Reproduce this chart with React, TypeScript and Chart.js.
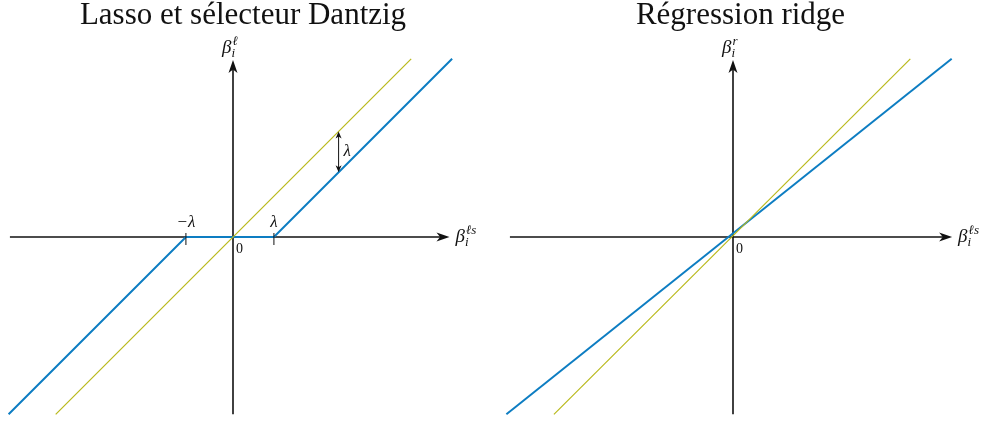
import React, { useEffect, useRef } from 'react';
import { Chart, registerables } from 'chart.js';

Chart.register(...registerables);

// ---------- data ----------
const TITLES = ['Lasso et sélecteur Dantzig', 'Régression ridge'];

// Lasso / Dantzig panel (soft thresholding)
const LASSO_X = [-5.1, -1.07, 0.93, 4.98];
const LASSO_Y = [-4.03, 0, 0, 4.05];
const IDENTITY_L_X = [-4.03, 4.05];
const IDENTITY_L_Y = [-4.03, 4.05];
const LAMBDA_TICKS = [-1.07, 0.93];
const LAMBDA_TICK_LABELS = ['−λ', 'λ'];
const LAMBDA_ARROW_X = 2.4;

// Ridge panel (shrinkage)
const RIDGE_X = [-5.15, 4.97];
const RIDGE_Y = [-4.03, 4.05];
const IDENTITY_R_X = [-4.07, 4.03];
const IDENTITY_R_Y = [-4.03, 4.05];

// axis extents (data units)
const AXIS_X_L = [-5.07, 4.92];
const AXIS_X_R = [-5.07, 4.98];
const AXIS_Y = [-4.03, 4.02];
const ORIGIN_LABEL = '0';

// ---------- styles ----------
const BLUE = '#0d7dc2';
const OLIVE = '#b9b91c';
const SERIF = '"Liberation Serif", "DejaVu Serif", serif';

type PanelSpec = {
  title: string;
  left: number;
  width: number;
  xMin: number;
  xMax: number;
  blue: { x: number[]; y: number[] };
  olive: { x: number[]; y: number[] };
  axisX: number[];
  xSup: string;
  ySup: string;
  lasso: boolean;
};

const Y_MIN = -184 / 44;
const Y_MAX = 187 / 44;

const PANELS: PanelSpec[] = [
  {
    title: TITLES[0],
    left: 0,
    width: 486,
    xMin: -233 / 44,
    xMax: 253 / 44,
    blue: { x: LASSO_X, y: LASSO_Y },
    olive: { x: IDENTITY_L_X, y: IDENTITY_L_Y },
    axisX: AXIS_X_L,
    xSup: 'ℓs',
    ySup: 'ℓ',
    lasso: true,
  },
  {
    title: TITLES[1],
    left: 500,
    width: 481,
    xMin: -233 / 44,
    xMax: 248 / 44,
    blue: { x: RIDGE_X, y: RIDGE_Y },
    olive: { x: IDENTITY_R_X, y: IDENTITY_R_Y },
    axisX: AXIS_X_R,
    xSup: 'ℓs',
    ySup: 'r',
    lasso: false,
  },
];

function arrowHead(ctx: CanvasRenderingContext2D, x: number, y: number, angle: number, len: number, half: number) {
  ctx.save();
  ctx.translate(x, y);
  ctx.rotate(angle);
  ctx.beginPath();
  ctx.moveTo(0, 0);
  ctx.lineTo(-len, -half);
  ctx.lineTo(-len * 0.72, 0);
  ctx.lineTo(-len, half);
  ctx.closePath();
  ctx.fill();
  ctx.restore();
}

function drawBeta(ctx: CanvasRenderingContext2D, x: number, base: number, sup: string, sub: string) {
  ctx.textAlign = 'left';
  ctx.textBaseline = 'alphabetic';
  ctx.font = `italic 19px ${SERIF}`;
  ctx.fillText('β', x, base);
  const w = ctx.measureText('β').width;
  ctx.font = `italic 13px ${SERIF}`;
  ctx.fillText(sup, x + w + 1, base - 8);
  ctx.fillText(sub, x + w, base + 4);
}

function makePlugin(spec: PanelSpec) {
  return {
    id: 'axesArrows',
    beforeDatasetsDraw(chart: any) {
      const ctx: CanvasRenderingContext2D = chart.ctx;
      const xs = chart.scales.x;
      const ys = chart.scales.y;
      const ox = xs.getPixelForValue(0);
      const oy = ys.getPixelForValue(0);
      ctx.save();
      ctx.strokeStyle = '#111';
      ctx.fillStyle = '#111';
      ctx.lineWidth = 1.6;
      // x axis
      const xa = xs.getPixelForValue(spec.axisX[0]);
      const xb = xs.getPixelForValue(spec.axisX[1]);
      ctx.beginPath();
      ctx.moveTo(xa, oy);
      ctx.lineTo(xb - 8, oy);
      ctx.stroke();
      arrowHead(ctx, xb, oy, 0, 13, 4.5);
      // y axis
      const ya = ys.getPixelForValue(AXIS_Y[0]);
      const yb = ys.getPixelForValue(AXIS_Y[1]);
      ctx.beginPath();
      ctx.moveTo(ox, ya);
      ctx.lineTo(ox, yb + 8);
      ctx.stroke();
      arrowHead(ctx, ox, yb, -Math.PI / 2, 13, 4.5);
      ctx.restore();
    },
    afterDatasetsDraw(chart: any) {
      const ctx: CanvasRenderingContext2D = chart.ctx;
      const xs = chart.scales.x;
      const ys = chart.scales.y;
      const ox = xs.getPixelForValue(0);
      const oy = ys.getPixelForValue(0);
      const xb = xs.getPixelForValue(spec.axisX[1]);
      const yb = ys.getPixelForValue(AXIS_Y[1]);
      ctx.save();
      ctx.fillStyle = '#111';
      ctx.strokeStyle = '#111';
      // axis labels
      drawBeta(ctx, xb + 6, oy + 5, spec.xSup, 'i');
      drawBeta(ctx, ox - 11, yb - 7, spec.ySup, 'i');
      // origin label
      ctx.font = `14px ${SERIF}`;
      ctx.textAlign = 'left';
      ctx.textBaseline = 'alphabetic';
      ctx.fillText(ORIGIN_LABEL, ox + 3, oy + 16);
      if (spec.lasso) {
        // lambda ticks
        ctx.lineWidth = 1;
        LAMBDA_TICKS.forEach((t, i) => {
          const px = xs.getPixelForValue(t);
          ctx.beginPath();
          ctx.moveTo(px, oy - 4);
          ctx.lineTo(px, oy + 8);
          ctx.stroke();
          ctx.font = `italic 17px ${SERIF}`;
          ctx.textAlign = 'center';
          ctx.fillText(LAMBDA_TICK_LABELS[i], px, oy - 10);
        });
        // double arrow showing the lambda gap
        const ax = xs.getPixelForValue(LAMBDA_ARROW_X);
        const top = ys.getPixelForValue(LAMBDA_ARROW_X);
        const bot = ys.getPixelForValue(LAMBDA_ARROW_X - LAMBDA_TICKS[1]);
        ctx.lineWidth = 1;
        ctx.beginPath();
        ctx.moveTo(ax, top + 4);
        ctx.lineTo(ax, bot - 4);
        ctx.stroke();
        arrowHead(ctx, ax, top, -Math.PI / 2, 7, 3);
        arrowHead(ctx, ax, bot, Math.PI / 2, 7, 3);
        ctx.font = `italic 17px ${SERIF}`;
        ctx.textAlign = 'left';
        ctx.textBaseline = 'middle';
        ctx.fillText('λ', ax + 5, (top + bot) / 2);
      }
      ctx.restore();
    },
  };
}

function toPoints(x: number[], y: number[]) {
  return x.map((v, i) => ({ x: v, y: y[i] }));
}

function Panel({ spec }: { spec: PanelSpec }) {
  const ref = useRef<HTMLCanvasElement | null>(null);
  useEffect(() => {
    if (!ref.current) return;
    const chart = new Chart(ref.current, {
      type: 'line',
      data: {
        datasets: [
          {
            data: toPoints(spec.olive.x, spec.olive.y),
            borderColor: OLIVE,
            borderWidth: 1.2,
            pointRadius: 0,
            fill: false,
            tension: 0,
          },
          {
            data: toPoints(spec.blue.x, spec.blue.y),
            borderColor: BLUE,
            borderWidth: 2,
            pointRadius: 0,
            fill: false,
            tension: 0,
          },
        ],
      },
      options: {
        responsive: false,
        animation: false,
        events: [],
        layout: { padding: 0 },
        scales: {
          x: { type: 'linear', display: false, min: spec.xMin, max: spec.xMax, bounds: 'data' },
          y: { type: 'linear', display: false, min: Y_MIN, max: Y_MAX, bounds: 'data' },
        },
        plugins: {
          legend: { display: false },
          tooltip: { enabled: false },
          title: {
            display: true,
            text: spec.title,
            color: '#111',
            font: { family: SERIF, size: 31, weight: 'normal', lineHeight: 1 },
            padding: { top: 0, bottom: 19 },
          },
        },
      } as any,
      plugins: [makePlugin(spec)],
    });
    return () => chart.destroy();
  }, [spec]);
  return (
    <canvas
      ref={ref}
      width={spec.width}
      height={421}
      style={{ position: 'absolute', left: spec.left, top: 0, width: spec.width, height: 421, display: 'block' }}
    />
  );
}

export default function App() {
  return (
    <div style={{ position: 'fixed', left: 0, top: 0, width: 981, height: 421, background: '#fff', overflow: 'hidden' }}>
      {PANELS.map((p) => (
        <Panel key={p.title} spec={p} />
      ))}
    </div>
  );
}
